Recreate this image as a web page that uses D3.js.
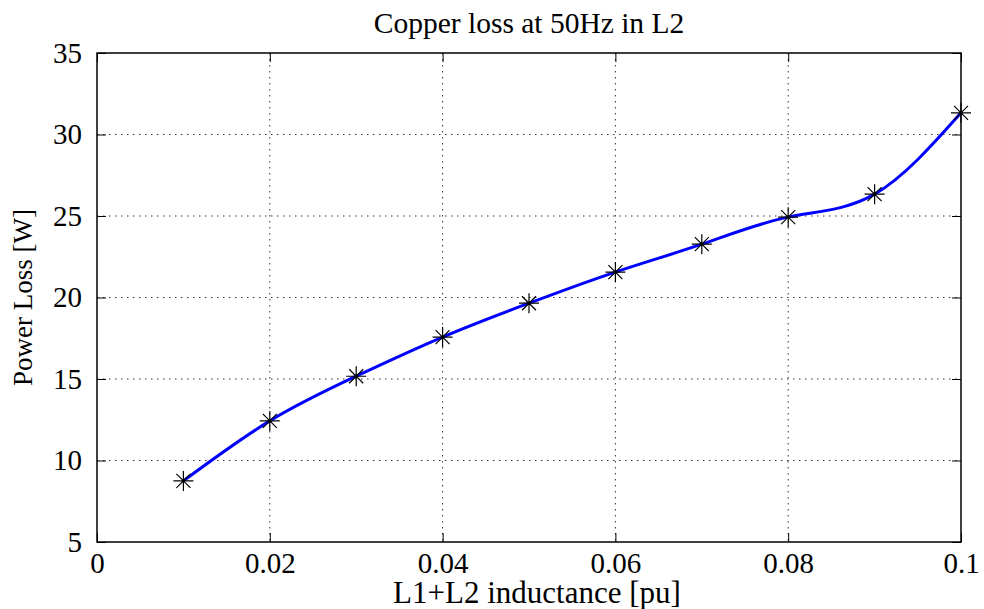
<!DOCTYPE html>
<html>
<head>
<meta charset="utf-8">
<script src="https://cdn.jsdelivr.net/npm/d3@7"></script>
<style>
  html, body { margin: 0; padding: 0; background: #fff; }
  svg { display: block; font-family: "Liberation Serif", "Times New Roman", serif; }
</style>
</head>
<body>
<div id="chart"></div>
<script>
const inductance = [0.01, 0.02, 0.03, 0.04, 0.05, 0.06, 0.07, 0.08, 0.09, 0.1];
const powerLoss = [8.75, 12.43, 15.17, 17.57, 19.65, 21.56, 23.27, 24.93, 26.34, 31.33];
const xTicks = [0, 0.02, 0.04, 0.06, 0.08, 0.1];
const xTickLabels = ['0', '0.02', '0.04', '0.06', '0.08', '0.1'];
const yTicks = [5, 10, 15, 20, 25, 30, 35];

const width = 984;
const height = 609;
const margin = { top: 53, right: 23, bottom: 67, left: 97 };
const innerW = width - margin.left - margin.right;
const innerH = height - margin.top - margin.bottom;

const svg = d3.select('#chart').append('svg')
  .attr('width', width)
  .attr('height', height);

const g = svg.append('g')
  .attr('transform', `translate(${margin.left},${margin.top})`);

const x = d3.scaleLinear().domain([0, 0.1]).range([0, innerW]);
const y = d3.scaleLinear().domain([5, 35]).range([innerH, 0]);

// dotted grid
g.append('g')
  .selectAll('line')
  .data(xTicks.slice(1, -1))
  .join('line')
  .attr('x1', d => x(d)).attr('x2', d => x(d))
  .attr('y1', 0).attr('y2', innerH)
  .attr('stroke', '#333')
  .attr('stroke-width', 1)
  .attr('stroke-dasharray', '1.5,4.5');

g.append('g')
  .selectAll('line')
  .data(yTicks.slice(1, -1))
  .join('line')
  .attr('x1', 0).attr('x2', innerW)
  .attr('y1', d => y(d)).attr('y2', d => y(d))
  .attr('stroke', '#333')
  .attr('stroke-width', 1)
  .attr('stroke-dasharray', '1.5,4.5');

// axes with inward ticks
const tickLen = 9;
const styleAxis = sel => {
  sel.select('.domain').remove();
  sel.selectAll('.tick line').attr('stroke', '#000').attr('stroke-width', 1);
  sel.selectAll('.tick text')
    .attr('fill', '#000')
    .style('font-family', '"Liberation Serif", "Times New Roman", serif')
    .style('font-size', '29px');
};

g.append('g')
  .attr('transform', `translate(0,${innerH})`)
  .call(d3.axisBottom(x).tickValues(xTicks)
    .tickFormat((d, i) => xTickLabels[i])
    .tickSizeInner(-tickLen).tickSizeOuter(0).tickPadding(10))
  .call(styleAxis);

g.append('g')
  .call(d3.axisTop(x).tickValues(xTicks).tickFormat('')
    .tickSizeInner(-tickLen).tickSizeOuter(0))
  .call(styleAxis);

g.append('g')
  .call(d3.axisLeft(y).tickValues(yTicks)
    .tickSizeInner(-tickLen).tickSizeOuter(0).tickPadding(15))
  .call(styleAxis);

g.append('g')
  .attr('transform', `translate(${innerW},0)`)
  .call(d3.axisRight(y).tickValues(yTicks).tickFormat('')
    .tickSizeInner(-tickLen).tickSizeOuter(0))
  .call(styleAxis);

// frame
g.append('rect')
  .attr('width', innerW)
  .attr('height', innerH)
  .attr('fill', 'none')
  .attr('stroke', '#000')
  .attr('stroke-width', 1.5);

const data = inductance.map((d, i) => ({ x: d, y: powerLoss[i] }));

const line = d3.line()
  .x(d => x(d.x))
  .y(d => y(d.y))
  .curve(d3.curveNatural);

g.append('path')
  .datum(data)
  .attr('fill', 'none')
  .attr('stroke', '#0000ff')
  .attr('stroke-width', 3)
  .attr('d', line);

// asterisk markers
const r = 10;
const star = `M${-r},0L${r},0M0,${-r}L0,${r}` +
  `M${-r * 0.7},${-r * 0.7}L${r * 0.7},${r * 0.7}` +
  `M${-r * 0.7},${r * 0.7}L${r * 0.7},${-r * 0.7}`;

g.append('g')
  .selectAll('path')
  .data(data)
  .join('path')
  .attr('transform', d => `translate(${x(d.x)},${y(d.y)})`)
  .attr('d', star)
  .attr('fill', 'none')
  .attr('stroke', '#000')
  .attr('stroke-width', 1.2);

// labels
svg.append('text')
  .attr('x', margin.left + innerW / 2)
  .attr('y', 33)
  .attr('text-anchor', 'middle')
  .style('font-size', '29.5px')
  .text('Copper loss at 50Hz in L2');

svg.append('text')
  .attr('x', margin.left + innerW / 2 + 8)
  .attr('y', 603)
  .attr('text-anchor', 'middle')
  .style('font-size', '31px')
  .text('L1+L2 inductance [pu]');

svg.append('text')
  .attr('transform', `translate(32,${margin.top + innerH / 2}) rotate(-90)`)
  .attr('text-anchor', 'middle')
  .style('font-size', '27px')
  .text('Power Loss [W]');
</script>
</body>
</html>
